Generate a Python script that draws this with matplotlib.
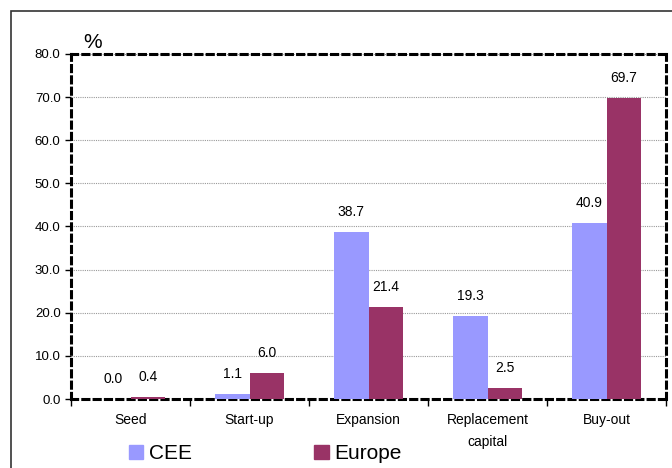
import numpy as np
import matplotlib
matplotlib.use("Agg")
import matplotlib.pyplot as plt
from matplotlib.patches import Rectangle

plt.rcParams["font.family"] = ["Liberation Sans", "DejaVu Sans"]

# ---------- Data ----------
categories = ["Seed", "Start-up", "Expansion", "Replacement\ncapital", "Buy-out"]
cee = [0.0, 1.1, 38.7, 19.3, 40.9]
europe = [0.4, 6.0, 21.4, 2.5, 69.7]
yticks = [0, 10, 20, 30, 40, 50, 60, 70, 80]

CEE_COLOR = "#9999FF"
EUROPE_COLOR = "#993366"

fig = plt.figure(figsize=(6.72, 4.68), dpi=100)

# thin outer frame of the chart area
fig.patches.append(Rectangle((11 / 672, -0.1), 1.0, 1 - 11 / 468 + 0.1,
                             transform=fig.transFigure, fill=False,
                             edgecolor="#333333", linewidth=1.2))

ax = fig.add_axes([71 / 672, 1 - 399 / 468, 595 / 672, 345 / 468])

x = np.arange(len(categories))
w = 0.29
b1 = ax.bar(x - w / 2, cee, w, color=CEE_COLOR, zorder=3)
b2 = ax.bar(x + w / 2, europe, w, color=EUROPE_COLOR, zorder=3)

for bars, vals in ((b1, cee), (b2, europe)):
    for rect, v in zip(bars, vals):
        ax.text(rect.get_x() + rect.get_width() / 2, v + 3.0, f"{v:.1f}",
                ha="center", va="bottom", fontsize=10, zorder=4)

ax.set_xlim(-0.5, len(categories) - 0.5)
ax.set_ylim(0, 80)
ax.set_yticks(yticks)
ax.set_yticklabels([f"{t:.1f}" for t in yticks], fontsize=9.5)
ax.yaxis.grid(True, color="#999999", linestyle=(0, (1, 1)), linewidth=0.8, zorder=0)

# category labels centred, ticks on category boundaries
ax.set_xticks(x)
ax.set_xticklabels(categories, fontsize=10, linespacing=1.75)
ax.tick_params(axis="x", length=0, pad=10)
ax.set_xticks(np.arange(len(categories) + 1) - 0.5, minor=True)
ax.tick_params(axis="x", which="minor", length=5, direction="out", width=1)
ax.tick_params(axis="y", length=4, direction="out", width=1)

for side in ("top", "right", "left", "bottom"):
    ax.spines[side].set_linestyle((0, (2, 1.7)))
    ax.spines[side].set_linewidth(2.2)
    ax.spines[side].set_color("black")

ax.text(0.02, 1.005, "%", transform=ax.transAxes, fontsize=15,
        ha="left", va="bottom")

# legend below the plot
handles = [Rectangle((0, 0), 1, 1, color=CEE_COLOR),
           Rectangle((0, 0), 1, 1, color=EUROPE_COLOR)]
fig.legend(handles, ["CEE", "Europe"], loc="lower left",
           bbox_to_anchor=(110 / 672, -0.03), ncol=2, frameon=False,
           fontsize=15, handlelength=0.7, handleheight=0.7,
           handletextpad=0.25, columnspacing=5.9)

fig.savefig("out.png", dpi=100)
